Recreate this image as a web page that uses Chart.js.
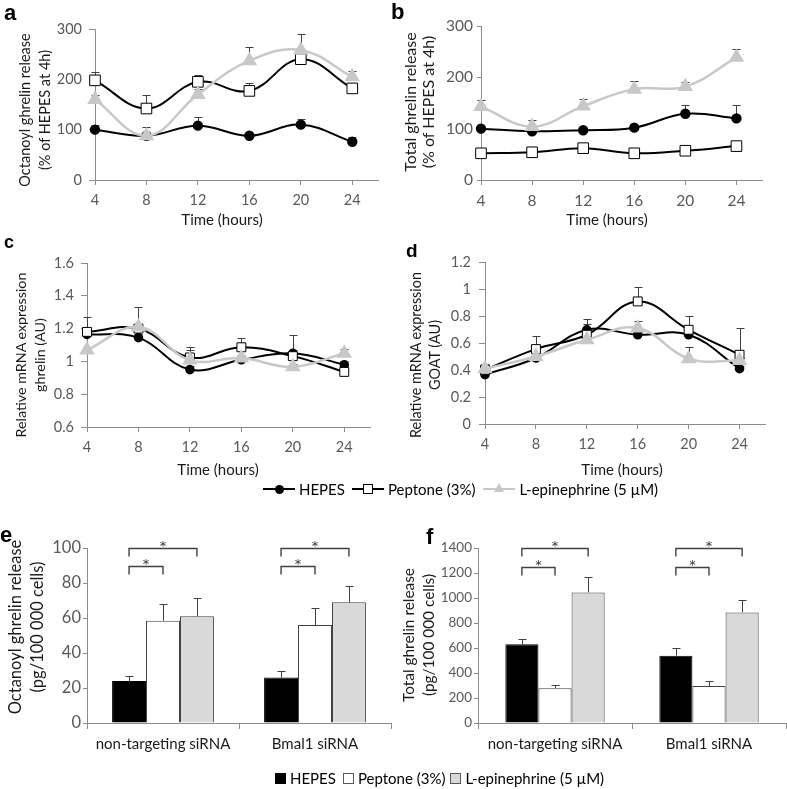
<!DOCTYPE html>
<html><head><meta charset="utf-8">
<script src="https://cdn.jsdelivr.net/npm/chart.js@4.4.0/dist/chart.umd.min.js"></script>
<style>
body{margin:0;background:#fff;}
#page{position:relative;width:787px;height:789px;overflow:hidden;font-family:Lato,'Open Sans',sans-serif;background:#fff;}
canvas{position:absolute;left:0;top:0;}
.lbl{position:absolute;font-weight:bold;font-family:'Liberation Sans',Arial,sans-serif;color:#000;line-height:1;}
.yt{position:absolute;transform:translate(-50%,-50%) rotate(-90deg);white-space:nowrap;text-align:center;color:#1a1a1a;}
.xt{position:absolute;transform:translate(-50%,-50%);white-space:nowrap;color:#1a1a1a;font-size:15px;}
.leg{position:absolute;display:flex;align-items:center;white-space:nowrap;font-size:15px;color:#000;transform:translateY(-50%);}
.lm{display:inline-block;position:relative;width:32px;height:2px;margin-right:4px;}
.lm i{position:absolute;display:block;}
.sq{display:inline-block;width:11px;height:11px;box-sizing:border-box;margin-right:4px;}
</style></head>
<body><div id="page">
<canvas id="ca" width="787" height="789"></canvas>
<canvas id="cb" width="787" height="789"></canvas>
<canvas id="cc" width="787" height="789"></canvas>
<canvas id="cd" width="787" height="789"></canvas>
<canvas id="ce" width="787" height="789"></canvas>
<canvas id="cf" width="787" height="789"></canvas>

<div class="lbl" style="left:4px;top:2px;font-size:22px">a</div>
<div class="lbl" style="left:391px;top:1px;font-size:22px">b</div>
<div class="lbl" style="left:4px;top:233px;font-size:18px">c</div>
<div class="lbl" style="left:406px;top:241px;font-size:19px">d</div>
<div class="lbl" style="left:0px;top:524px;font-size:22px">e</div>
<div class="lbl" style="left:426px;top:526px;font-size:22px">f</div>

<div class="yt" style="left:35px;top:110px;font-size:14.5px;line-height:20px">Octanoyl ghrelin release<br>(% of HEPES at 4h)</div>
<div class="yt" style="left:419px;top:102px;font-size:16px;line-height:18px">Total ghrelin release<br>(% of HEPES at 4h)</div>
<div class="yt" style="left:30px;top:355px;font-size:14.3px;line-height:19px">Relative mRNA expression<br>ghrelin (AU)</div>
<div class="yt" style="left:425px;top:355px;font-size:14.4px;line-height:19px">Relative mRNA expression<br>GOAT (AU)</div>
<div class="yt" style="left:26px;top:627px;font-size:16.5px;line-height:22px">Octanoyl ghrelin release<br>(pg/100 000 cells)</div>
<div class="yt" style="left:418px;top:635px;font-size:15.4px;line-height:20px">Total ghrelin release<br>(pg/100 000 cells)</div>

<div class="xt" style="left:222px;top:219px">Time (hours)</div>
<div class="xt" style="left:607px;top:219px">Time (hours)</div>
<div class="xt" style="left:218px;top:469px">Time (hours)</div>
<div class="xt" style="left:622px;top:469px">Time (hours)</div>

<div class="leg" style="left:263px;top:489px">
 <span class="lm" style="background:#000"><i style="left:12px;top:-3.5px;width:9px;height:9px;border-radius:50%;background:#000"></i></span><span style="margin-right:7px">HEPES</span>
 <span class="lm" style="background:#000"><i style="left:11px;top:-4px;width:10px;height:10px;box-sizing:border-box;border:1px solid #000;background:#fff"></i></span><span style="margin-right:8px">Peptone (3%)</span>
 <span class="lm" style="background:#c8c8c8"><i style="left:11px;top:-5px;width:0;height:0;border-left:5px solid transparent;border-right:5px solid transparent;border-bottom:9px solid #c8c8c8"></i></span><span>L-epinephrine (5 µM)</span>
</div>
<div class="leg" style="left:275px;top:778px">
 <span class="sq" style="background:#000"></span><span style="margin-right:7px">HEPES</span>
 <span class="sq" style="background:#fff;border:1px solid #595959"></span><span style="margin-right:5px">Peptone (3%)</span>
 <span class="sq" style="background:#d9d9d9;border:1px solid #595959"></span><span>L-epinephrine (5 µM)</span>
</div>
</div>
<script>
// ---------- data ----------
const hours = [4, 8, 12, 16, 20, 24];

// a: octanoyl ghrelin release (% of HEPES at 4h)
const aHepes = [100, 88, 108, 88, 110, 76];
const aHepesErr = [10, 4, 17, 5, 12, 10];
const aPeptone = [198, 142, 195, 177, 240, 182];
const aPeptoneErr = [17, 26, 13, 16, 15, 10];
const aEpi = [160, 88, 170, 237, 258, 205];
const aEpiErr = [8, 17, 10, 28, 32, 11];

// b: total ghrelin release (% of HEPES at 4h)
const bHepes = [100, 95, 97, 102, 129, 120];
const bHepesErr = [3, 3, 3, 3, 18, 26];
const bPeptone = [52, 54, 62, 52, 57, 66];
const bPeptoneErr = [2, 2, 3, 2, 2, 3];
const bEpi = [143, 104, 144, 177, 182, 239];
const bEpiErr = [12, 12, 14, 15, 8, 16];

// c: relative mRNA expression ghrelin (AU)
const cHepes = [1.165, 1.145, 0.95, 1.01, 1.049, 0.98];
const cHepesErr = [0.02, 0.02, 0.02, 0.02, 0.02, 0.02];
const cPeptone = [1.18, 1.2, 1.024, 1.086, 1.032, 0.936];
const cPeptoneErr = [0.09, 0.13, 0.066, 0.057, 0.127, 0.02];
const cEpi = [1.069, 1.21, 1.008, 1.02, 0.967, 1.049];
const cEpiErr = [0.02, 0.02, 0.062, 0.02, 0.015, 0.024];

// d: relative mRNA expression GOAT (AU)
const dHepes = [0.365, 0.489, 0.698, 0.661, 0.661, 0.41];
const dHepesErr = [0.02, 0.02, 0.04, 0.02, 0.02, 0.02];
const dPeptone = [0.402, 0.555, 0.661, 0.908, 0.698, 0.513];
const dPeptoneErr = [0.04, 0.1, 0.117, 0.11, 0.1, 0.2];
const dEpi = [0.41, 0.5, 0.624, 0.711, 0.484, 0.47];
const dEpiErr = [0.02, 0.02, 0.02, 0.05, 0.09, 0.02];

// e, f: bar charts
const groups = ['non-targeting siRNA', 'Bmal1 siRNA'];
const eHepes = [24, 26];
const eHepesErr = [3, 3.7];
const ePeptone = [58.5, 56];
const ePeptoneErr = [9.7, 10];
const eEpi = [61, 69];
const eEpiErr = [10.6, 9.3];
const fHepes = [630, 538];
const fHepesErr = [45, 62];
const fPeptone = [278, 297];
const fPeptoneErr = [29, 42];
const fEpi = [1045, 885];
const fEpiErr = [123, 96];

// significance brackets: [group, fromSeries, toSeries, level]
const eBrackets = [[0, 0, 1, 90], [0, 0, 2, 100], [1, 0, 1, 90], [1, 0, 2, 100]];
const fBrackets = [[0, 0, 1, 1250], [0, 0, 2, 1400], [1, 0, 1, 1250], [1, 0, 2, 1400]];

// ---------- plugins ----------
const errBars = {
  id: 'errbars',
  beforeDatasetsDraw(chart, args, opts) {
    const ctx = chart.ctx;
    chart.data.datasets.forEach((ds, di) => {
      if (!ds.errors) return;
      const meta = chart.getDatasetMeta(di);
      const ys = chart.scales[meta.yAxisID];
      meta.data.forEach((el, i) => {
        const d = ds.data[i];
        const v = (typeof d === 'object') ? d.y : d;
        const e = ds.errors[i];
        if (!e) return;
        const x = Math.round(el.x) + 0.5;
        const y0 = ys.getPixelForValue(v);
        const y1 = Math.round(ys.getPixelForValue(v + e)) + 0.5;
        ctx.save();
        ctx.strokeStyle = opts.color || '#404040';
        ctx.lineWidth = 1;
        ctx.beginPath();
        ctx.moveTo(x, y0); ctx.lineTo(x, y1);
        ctx.moveTo(x - (opts.cap || 4), y1); ctx.lineTo(x + (opts.cap || 4), y1);
        ctx.stroke();
        ctx.restore();
      });
    });
  }
};
const brackets = {
  id: 'brackets',
  afterDatasetsDraw(chart, args, opts) {
    if (!opts.list) return;
    const ctx = chart.ctx;
    const ys = chart.scales.y;
    ctx.save();
    ctx.strokeStyle = '#404040';
    ctx.fillStyle = '#333';
    ctx.lineWidth = 1.4;
    ctx.font = '13px "DejaVu Sans"';
    ctx.textAlign = 'center';
    ctx.textBaseline = 'alphabetic';
    opts.list.forEach(([g, a, b, lvl]) => {
      const x0 = chart.getDatasetMeta(a).data[g].x;
      const x1 = chart.getDatasetMeta(b).data[g].x;
      const y = Math.round(ys.getPixelForValue(lvl)) + 0.5;
      ctx.beginPath();
      ctx.moveTo(x0, y + 8); ctx.lineTo(x0, y); ctx.lineTo(x1, y); ctx.lineTo(x1, y + 8);
      ctx.stroke();
      ctx.fillText('*', (x0 + x1) / 2, y + 1);
    });
    ctx.restore();
  }
};
Chart.register(errBars, brackets);

const W = 787, H = 789;
const AX = '#8c8c8c', TICK = '#595959';
const fmt = v => String(+Number(v).toFixed(2));

function mkLine(id, box, y, sets, st) {
  const styles = [
    {borderColor: '#000', borderWidth: 2, pointStyle: 'circle', pointRadius: st.cr, pointBackgroundColor: '#000', pointBorderColor: '#000', order: 2},
    {borderColor: '#000', borderWidth: 2, pointStyle: 'rect', pointRadius: st.sr, pointBackgroundColor: '#fff', pointBorderColor: '#000', pointBorderWidth: 1, order: 1},
    {borderColor: '#c8c8c8', borderWidth: 2.5, pointStyle: 'triangle', pointRadius: 6.5, pointBackgroundColor: '#c8c8c8', pointBorderColor: '#c8c8c8', order: 0}
  ];
  const names = ['HEPES', 'Peptone (3%)', 'L-epinephrine (5 µM)'];
  new Chart(document.getElementById(id), {
    type: 'line',
    data: {datasets: sets.map((s, k) => Object.assign({
      label: names[k],
      data: hours.map((h, i) => ({x: h, y: s[0][i]})),
      errors: s[1], tension: 0.4, clip: false
    }, styles[k]))},
    options: {
      responsive: false, animation: false, events: [],
      layout: {padding: {left: 0, top: box.top, right: W - box.right, bottom: H - box.bottom - 40}},
      plugins: {legend: {display: false}, tooltip: {enabled: false}, errbars: {color: '#404040', cap: 4}},
      scales: {
        x: {type: 'linear', min: 4, max: 26,
          afterBuildTicks: s => { s.ticks = hours.map(v => ({value: v})); },
          afterFit: s => { s.height = 40; },
          grid: {drawOnChartArea: false, drawTicks: true, tickLength: 5, color: AX},
          border: {color: AX, width: 1},
          ticks: {font: {family: 'Lato', size: st.fs}, color: TICK, padding: 7, maxRotation: 0, autoSkip: false}},
        y: {type: 'linear', min: y.min, max: y.max,
          afterFit: s => { s.width = box.left; },
          grid: {drawOnChartArea: false, drawTicks: true, tickLength: st.tl, color: AX},
          border: {color: AX, width: 1},
          ticks: {stepSize: y.step, callback: fmt, font: {family: 'Lato', size: st.fs}, color: TICK, padding: st.tp}}
      }
    }
  });
}

function mkBar(id, box, y, sets, br, st) {
  const fills = ['#000', '#fff', '#d9d9d9'];
  const lines = ['#000', '#404040', '#404040'];
  const names = ['HEPES', 'Peptone (3%)', 'L-epinephrine (5 µM)'];
  new Chart(document.getElementById(id), {
    type: 'bar',
    data: {labels: groups, datasets: sets.map((s, k) => ({
      label: names[k], data: s[0], errors: s[1],
      backgroundColor: fills[k], borderColor: lines[k], borderWidth: 1,
      categoryPercentage: st.cp, barPercentage: 1
    }))},
    options: {
      responsive: false, animation: false, events: [],
      layout: {padding: {left: 0, top: box.top, right: W - box.right, bottom: H - box.bottom - 40}},
      plugins: {legend: {display: false}, tooltip: {enabled: false}, errbars: {color: '#404040', cap: 4}, brackets: {list: br}},
      scales: {
        x: {afterFit: s => { s.height = 40; },
          grid: {offset: true, drawOnChartArea: false, drawTicks: true, tickLength: 6, color: AX},
          border: {color: AX, width: 1},
          ticks: {font: {family: 'Lato', size: 15}, color: '#1a1a1a', padding: 6, maxRotation: 0, autoSkip: false}},
        y: {min: y.min, max: y.max,
          afterFit: s => { s.width = box.left; },
          grid: {drawOnChartArea: false, drawTicks: true, tickLength: 4, color: AX},
          border: {color: AX, width: 1},
          ticks: {stepSize: y.step, callback: fmt, font: {family: 'Lato', size: st.fs}, color: TICK, padding: 2}}
      }
    }
  });
}

mkLine('ca', {left: 95, top: 29, right: 378, bottom: 180}, {min: 0, max: 300, step: 100},
  [[aHepes, aHepesErr], [aPeptone, aPeptoneErr], [aEpi, aEpiErr]], {fs: 14.5, tl: 6, tp: 7, cr: 4.2, sr: 7.5});
mkLine('cb', {left: 481, top: 26, right: 762, bottom: 180}, {min: 0, max: 300, step: 100},
  [[bHepes, bHepesErr], [bPeptone, bPeptoneErr], [bEpi, bEpiErr]], {fs: 15.5, tl: 4, tp: 4, cr: 4.2, sr: 7.5});
mkLine('cc', {left: 87, top: 263, right: 370, bottom: 427}, {min: 0.6, max: 1.6, step: 0.2},
  [[cHepes, cHepesErr], [cPeptone, cPeptoneErr], [cEpi, cEpiErr]], {fs: 14.5, tl: 6, tp: 7, cr: 3.8, sr: 6.3});
mkLine('cd', {left: 485, top: 262, right: 765, bottom: 424}, {min: 0, max: 1.2, step: 0.2},
  [[dHepes, dHepesErr], [dPeptone, dPeptoneErr], [dEpi, dEpiErr]], {fs: 14.5, tl: 6, tp: 8, cr: 3.8, sr: 6.3});
mkBar('ce', {left: 87, top: 548, right: 391, bottom: 723}, {min: 0, max: 100, step: 20},
  [[eHepes, eHepesErr], [ePeptone, ePeptoneErr], [eEpi, eEpiErr]], eBrackets, {fs: 16.5, cp: 0.67});
mkBar('cf', {left: 478, top: 548, right: 786, bottom: 723}, {min: 0, max: 1400, step: 200},
  [[fHepes, fHepesErr], [fPeptone, fPeptoneErr], [fEpi, fEpiErr]], fBrackets, {fs: 13.5, cp: 0.645});
</script>
</body></html>
